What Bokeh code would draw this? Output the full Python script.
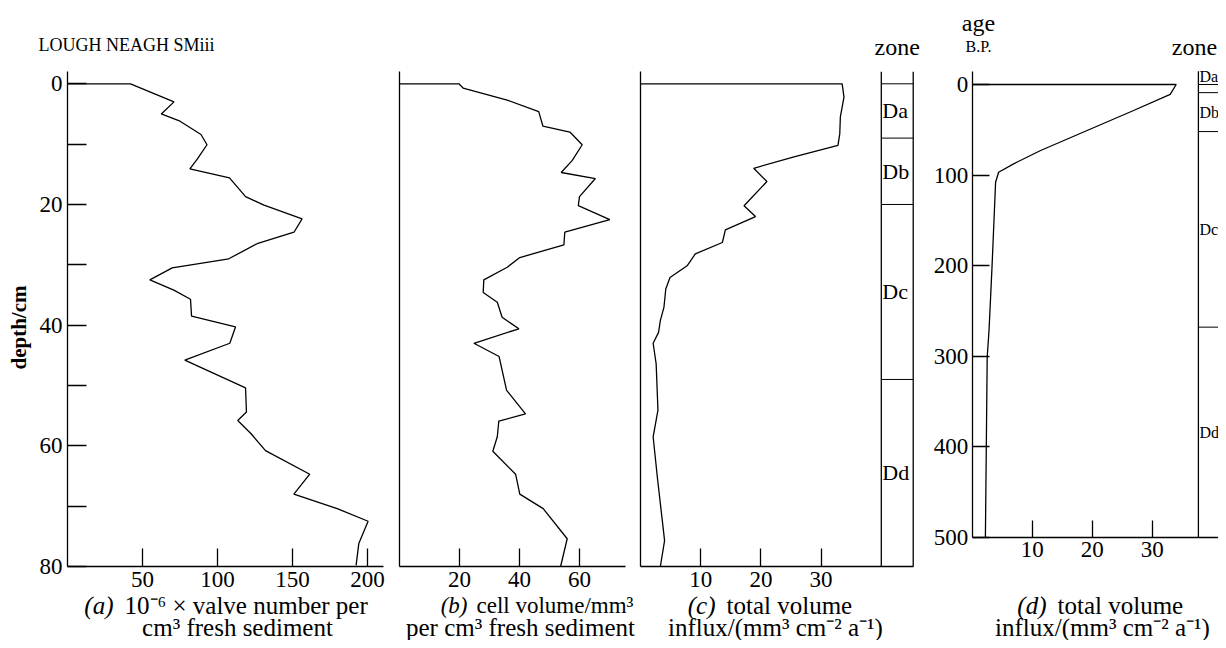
import math
from bokeh.plotting import figure
from bokeh.layouts import row
from bokeh.models import Range1d, FixedTicker, Label
from bokeh.embed import file_html
from bokeh.resources import INLINE

FONT = "Liberation Serif"

# ---------------- data ----------------
depth_a = [0, 3, 5, 6.2, 8.4, 10.1, 12.5, 14.1, 15.6, 18.7, 20.1, 22.4, 24.6, 26.5, 29, 30.5,
           32.5, 34.2, 35.7, 38.5, 40.3, 43, 45.8, 50.4, 54.4, 55.8, 58, 60.8, 64.7, 68,
           70.4, 72.5, 76.2, 79.8]
valve_a = [42, 71, 62.5, 75, 89, 93, 86.5, 81.6, 108, 118.7, 131, 156.4, 151, 126.4, 107.5,
           69.8, 54.9, 70.9, 82, 82.7, 112, 108.2, 78.2, 118.7, 119.3, 113.5, 122.4, 132,
           161.5, 150.9, 179.8, 200.4, 194.2, 192.4]

depth_b = [0, 0.7, 2.7, 4.6, 7, 8, 10.1, 12.7, 14.7, 15.7, 18.7, 20.2, 22.5, 24.6, 26.7, 28.8,
           30.4, 32.5, 34.6, 36.2, 38.7, 40.6, 43, 45.2, 50.8, 54.7, 55.9, 58.5, 60.9, 64.7,
           68, 70.4, 75.4, 80]
cellvol_b = [19.8, 21.2, 35.9, 46.4, 47.8, 56.8, 60.9, 57.6, 53.9, 65.3, 60, 59.6, 70.1, 55.1,
             54.8, 40.1, 35.9, 28.1, 27.9, 32.6, 34.2, 39.8, 24.8, 33.2, 35.7, 42, 33.1, 32.6,
             31.1, 38.7, 40.1, 47.9, 55.9, 53.7]

depth_c = [0, 2.2, 5.5, 8.3, 10.2, 12.1, 14, 16.2, 20.2, 22, 24.2, 26.3, 28.2, 30.1, 32.1, 34,
           37, 39.2, 41.2, 43, 46.4, 54.1, 58.5, 65.2, 75.7, 80]
influx_c = [33.5, 33.8, 33.2, 33.1, 32.8, 25.5, 18.8, 21, 17.2, 19.1, 14.1, 13.6, 9.1, 7.8, 4.9,
            4.2, 3.9, 3.3, 3, 2.1, 2.6, 2.9, 2.1, 2.8, 4, 3.3]

age_d = [0, 11, 28.7, 72.9, 87.6, 96.9, 108, 202, 272, 301, 500]
influx_d = [34, 33, 26.9, 11.4, 6.9, 4.4, 3.9, 3.3, 2.8, 2.5, 2.2]

zone_names = ["Da", "Db", "Dc", "Dd"]
zone_depth_bounds = [0, 9, 20, 49, 80]
zone_age_bounds = [0, 9, 52, 268, 500]

ticks_a = [50, 100, 150, 200]
ticks_b = [20, 40, 60]
ticks_c = [10, 20, 30]
ticks_d = [10, 20, 30]
ticks_depth = [0, 10, 20, 30, 40, 50, 60, 70, 80]
labelled_depth = [0, 20, 40, 60, 80]
ticks_age = [0, 100, 200, 300, 400, 500]

caption_a = ("(a)", "10\u207b\u2076 \u00d7 valve number per", "cm\u00b3 fresh sediment")
caption_b = ("(b)", "cell volume/mm\u00b3", "per cm\u00b3 fresh sediment")
caption_c = ("(c)", "total volume", "influx/(mm\u00b3 cm\u207b\u00b2 a\u207b\u00b9)")
caption_d = ("(d)", "total volume", "influx/(mm\u00b3 cm\u207b\u00b2 a\u207b\u00b9)")

# ---------------- layout constants (page pixels) ----------------
H = 640
TICK_FS = "23px"
CAP_FS = "25px"
LW = 1.3
DEPTH_TOP, DEPTH_BOTTOM = -2, 80
AGE_TOP, AGE_BOTTOM = -14.5, 500


class Panel:
    """A figure whose frame fills its whole canvas; value 0 sits at page pixel x0 / y0."""

    def __init__(self, left, width, x0, sx, y0, sy):
        self.left, self.sx, self.x0, self.y0, self.sy = left, sx, x0, y0, sy
        xr = Range1d((left - x0) / sx, (left + width - x0) / sx)
        yr = Range1d((H - y0) / sy, -y0 / sy)
        p = figure(width=width, height=H, x_range=xr, y_range=yr,
                   output_backend="svg", toolbar_location=None)
        p.min_border_left = p.min_border_right = 0
        p.min_border_top = p.min_border_bottom = 0
        p.outline_line_color = None
        p.grid.visible = False
        p.background_fill_color = "white"
        p.border_fill_color = "white"
        self.p = p

    def px_x(self, px):
        return (px - self.x0) / self.sx

    def px_y(self, py):
        return (py - self.y0) / self.sy


def style_axis(ax, ticks, loc, bounds, tick_len=18, overrides=None):
    ax.fixed_location = loc
    ax.bounds = bounds
    ax.ticker = FixedTicker(ticks=ticks)
    ax.major_tick_in = tick_len
    ax.major_tick_out = 0
    ax.minor_tick_line_color = None
    ax.axis_line_width = LW
    ax.major_tick_line_width = LW
    ax.axis_line_color = "black"
    ax.major_tick_line_color = "black"
    ax.major_label_text_font = FONT
    ax.major_label_text_font_size = TICK_FS
    ax.major_label_text_color = "black"
    ax.major_label_standoff = 5
    if overrides:
        ax.major_label_overrides = overrides


def profile(p, xs, ys):
    # the profile is closed to the axis at the surface
    p.line([0] + list(xs), [ys[0]] + list(ys), line_color="black", line_width=LW)


def text(p, x, y, s, size=CAP_FS, align="center", baseline="middle", style="normal",
         angle=0, x_offset=0):
    p.add_layout(Label(x=x, y=y, text=s, text_font=FONT, text_font_size=size,
                       text_align=align, text_baseline=baseline, text_font_style=style,
                       text_color="black", angle=angle, x_offset=x_offset))


def caption(P, cap, split_px, center2_px, size1=CAP_FS, gap=11, y1_px=605, y2_px=627):
    p = P.p
    xs = P.px_x(split_px)
    y1, y2 = P.px_y(y1_px), P.px_y(y2_px)
    text(p, xs, y1, cap[0], size=size1, align="right", style="italic")
    text(p, xs, y1, cap[1], size=size1, align="left", x_offset=gap)
    text(p, P.px_x(center2_px), y2, cap[2])


def zone_column(P, x0, x1, bounds, ytop, ybottom, label_size="22px"):
    p = P.p
    p.segment(x0=[x0, x1], y0=[ytop, ytop], x1=[x0, x1], y1=[ybottom, ybottom],
              line_color="black", line_width=LW)
    hb = bounds[:-1]
    p.segment(x0=[x0] * len(hb), y0=hb, x1=[x1] * len(hb), y1=hb,
              line_color="black", line_width=1.0)
    for name, lo, hi in zip(zone_names, bounds[:-1], bounds[1:]):
        if (hi - lo) * P.sy < 20:
            y, base = lo, "bottom"
        else:
            y, base = (lo + hi) / 2, "middle"
        p.add_layout(Label(x=x0, y=y, text=name, text_font=FONT, text_font_size=label_size,
                           text_align="left", text_baseline=base, x_offset=1,
                           text_color="black"))


SY_DEPTH = 6.034
# ---------------- (a) ----------------
A = Panel(0, 395, 67, 1.5, 83.3, SY_DEPTH)
pa = A.p
style_axis(pa.xaxis[0], ticks_a, DEPTH_BOTTOM, (0, A.px_x(383)))
style_axis(pa.yaxis[0], ticks_depth, 0, (DEPTH_TOP, DEPTH_BOTTOM), tick_len=19,
           overrides={t: (str(t) if t in labelled_depth else "") for t in ticks_depth})
profile(pa, valve_a, depth_a)
text(pa, A.px_x(38), A.px_y(44), "LOUGH NEAGH SMiii", size="18px", align="left")
text(pa, A.px_x(18), A.px_y(327), "depth/cm", size="21px", style="bold", angle=math.pi / 2)
caption(A, caption_a, 113, 237)

# ---------------- (b) ----------------
B = Panel(395, 241, 399, 3.0, 83.3, SY_DEPTH)
pb = B.p
style_axis(pb.xaxis[0], ticks_b, DEPTH_BOTTOM, (0, B.px_x(625)))
style_axis(pb.yaxis[0], [], 0, (DEPTH_TOP, DEPTH_BOTTOM))
profile(pb, cellvol_b, depth_b)
caption(B, caption_b, 467, 520, size1="23px", gap=9)

# ---------------- (c) ----------------
C = Panel(636, 289, 640, 6.02, 83.3, SY_DEPTH)
pc = C.p
col_c = (40, 45.3)
style_axis(pc.xaxis[0], ticks_c, DEPTH_BOTTOM, (0, col_c[1]))
style_axis(pc.yaxis[0], [], 0, (DEPTH_TOP, DEPTH_BOTTOM))
profile(pc, influx_c, depth_c)
zone_column(C, col_c[0], col_c[1], zone_depth_bounds, DEPTH_TOP, DEPTH_BOTTOM)
text(pc, sum(col_c) / 2, C.px_y(46), "zone", size="24px")
caption(C, caption_c, 715, 775)

# ---------------- (d) ----------------
D = Panel(925, 293, 971.7, 6.0, 84, 0.9054)
pd_ = D.p
col_d_left = 37.7
style_axis(pd_.xaxis[0], ticks_d, AGE_BOTTOM, (0, D.px_x(1230)), tick_len=17)
style_axis(pd_.yaxis[0], ticks_age, 0, (AGE_TOP, AGE_BOTTOM), tick_len=17)
pd_.yaxis[0].major_label_standoff = 4
profile(pd_, influx_d, age_d)
zone_column(D, col_d_left, D.px_x(1240), zone_age_bounds, AGE_TOP, AGE_BOTTOM,
            label_size="16px")
text(pd_, D.px_x(978), D.px_y(22), "age", size="24px")
text(pd_, D.px_x(978), D.px_y(46), "B.P.", size="16px")
text(pd_, D.px_x(1194), D.px_y(46), "zone", size="24px")
caption(D, caption_d, 1046, 1102)

layout = row(pa, pb, pc, pd_)
open("out.html", "w").write(file_html(layout, INLINE))
